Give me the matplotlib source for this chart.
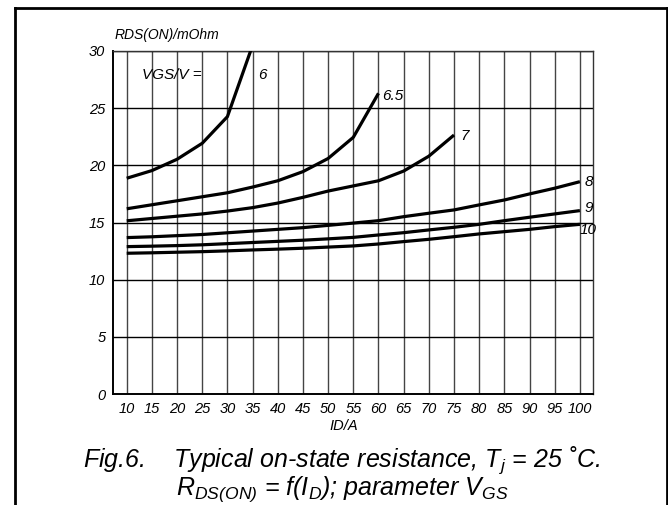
import matplotlib
matplotlib.use("Agg")
import matplotlib.pyplot as plt
from matplotlib.lines import Line2D

plt.rcParams['font.family'] = ['Liberation Sans', 'DejaVu Sans']
plt.rcParams['mathtext.fontset'] = 'custom'
plt.rcParams['mathtext.rm'] = 'Liberation Sans:italic'
plt.rcParams['mathtext.it'] = 'Liberation Sans:italic'
plt.rcParams['mathtext.bf'] = 'Liberation Sans:italic:bold'

# ---- data ----
id_6 = [10, 15, 20, 25, 30, 35]
r_6 = [18.87, 19.54, 20.53, 21.93, 24.26, 30.5]

id_65 = [10, 15, 20, 25, 30, 35, 40, 45, 50, 55, 60]
r_65 = [16.2, 16.55, 16.9, 17.25, 17.6, 18.1, 18.65, 19.45, 20.6, 22.45, 26.3]

id_7 = [10, 15, 20, 25, 30, 35, 40, 45, 50, 55, 60, 65, 70, 75]
r_7 = [15.15, 15.35, 15.55, 15.75, 16.0, 16.3, 16.7, 17.2, 17.75, 18.2, 18.65, 19.5, 20.8, 22.65]

id_all = [10, 15, 20, 25, 30, 35, 40, 45, 50, 55, 60, 65, 70, 75, 80, 85, 90, 95, 100]
r_8 = [13.68, 13.75, 13.85, 13.95, 14.1, 14.25, 14.4, 14.55, 14.75, 14.95,
       15.16, 15.51, 15.81, 16.1, 16.54, 16.97, 17.5, 18.0, 18.57]
r_9 = [12.89, 12.93, 12.98, 13.05, 13.15, 13.25, 13.35, 13.45, 13.57, 13.7,
       13.91, 14.11, 14.35, 14.58, 14.84, 15.16, 15.46, 15.75, 16.04]
r_10 = [12.31, 12.35, 12.4, 12.45, 12.52, 12.6, 12.67, 12.75, 12.85, 12.95,
        13.12, 13.33, 13.53, 13.76, 14.0, 14.2, 14.4, 14.64, 14.84]

x_ticks = list(range(10, 101, 5))
y_ticks = [0, 5, 10, 15, 20, 25, 30]

curve_labels = ["6", "6.5", "7", "8", "9", "10"]
label_x = [36.1, 60.7, 76.2, 100.9, 100.9, 99.9]
label_y = [27.9, 26.1, 22.6, 18.5, 16.3, 14.35]

# ---- figure ----
fig = plt.figure(figsize=(6.68, 5.05), dpi=100)
ax = fig.add_axes([113/668, 111/505, 480/668, 343/505])

ax.set_xlim(7.28, 102.6)
ax.set_ylim(0, 30)
ax.set_xticks(x_ticks)
ax.set_yticks(y_ticks)
ax.set_xticklabels([str(v) for v in x_ticks], fontsize=10.5, style='italic')
ax.set_yticklabels([str(v) for v in y_ticks], fontsize=10.5, style='italic')
ax.tick_params(length=0, pad=5.5)

for v in x_ticks:
    ax.axvline(v, color='#444444', lw=1.0, zorder=1)
for v in y_ticks[1:]:
    ax.axhline(v, color='black', lw=1.0, zorder=1)

for s in ax.spines.values():
    s.set_color('#333333')
    s.set_linewidth(1.0)
ax.spines['left'].set_color('black')
ax.spines['bottom'].set_color('black')
ax.spines['left'].set_linewidth(1.4)
ax.spines['bottom'].set_linewidth(1.4)

for xs, ys in [(id_6, r_6), (id_65, r_65), (id_7, r_7),
               (id_all, r_8), (id_all, r_9), (id_all, r_10)]:
    ax.plot(xs, ys, color='black', lw=2.3, zorder=3, solid_capstyle='butt')

for t, lx, ly in zip(curve_labels, label_x, label_y):
    ax.text(lx, ly, t, fontsize=11, style='italic', ha='left', va='center',
            clip_on=False, zorder=4)
ax.text(13.0, 27.9, "VGS/V =", fontsize=11, style='italic', ha='left', va='center', zorder=4)

fig.text(115/668, (505-35.5)/505, "RDS(ON)/mOhm", fontsize=10, style='italic',
         ha='left', va='center')
fig.text(343.5/668, (505-426)/505, "ID/A", fontsize=10.5, style='italic',
         ha='center', va='center')

fig.text(342/668, (505-467)/505,
         "Fig.6.    Typical on-state resistance, T$_j$ = 25 \u02daC.",
         fontsize=18, style='italic', ha='center', va='baseline')
fig.text(342/668, (505-494.5)/505,
         "R$_{DS(ON)}$ = f(I$_D$); parameter V$_{GS}$",
         fontsize=18, style='italic', ha='center', va='baseline')

# outer frame (open at bottom)
fw = 2.0
fig.add_artist(Line2D([15/668, 15/668], [0, (505-8.3)/505], color='black', lw=fw,
                      transform=fig.transFigure))
fig.add_artist(Line2D([666.7/668, 666.7/668], [0, (505-8.3)/505], color='black', lw=fw,
                      transform=fig.transFigure))
fig.add_artist(Line2D([15/668, 666.7/668], [(505-8.3)/505, (505-8.3)/505], color='black',
                      lw=fw, transform=fig.transFigure, solid_capstyle='projecting'))

fig.savefig("out.png", dpi=100)
